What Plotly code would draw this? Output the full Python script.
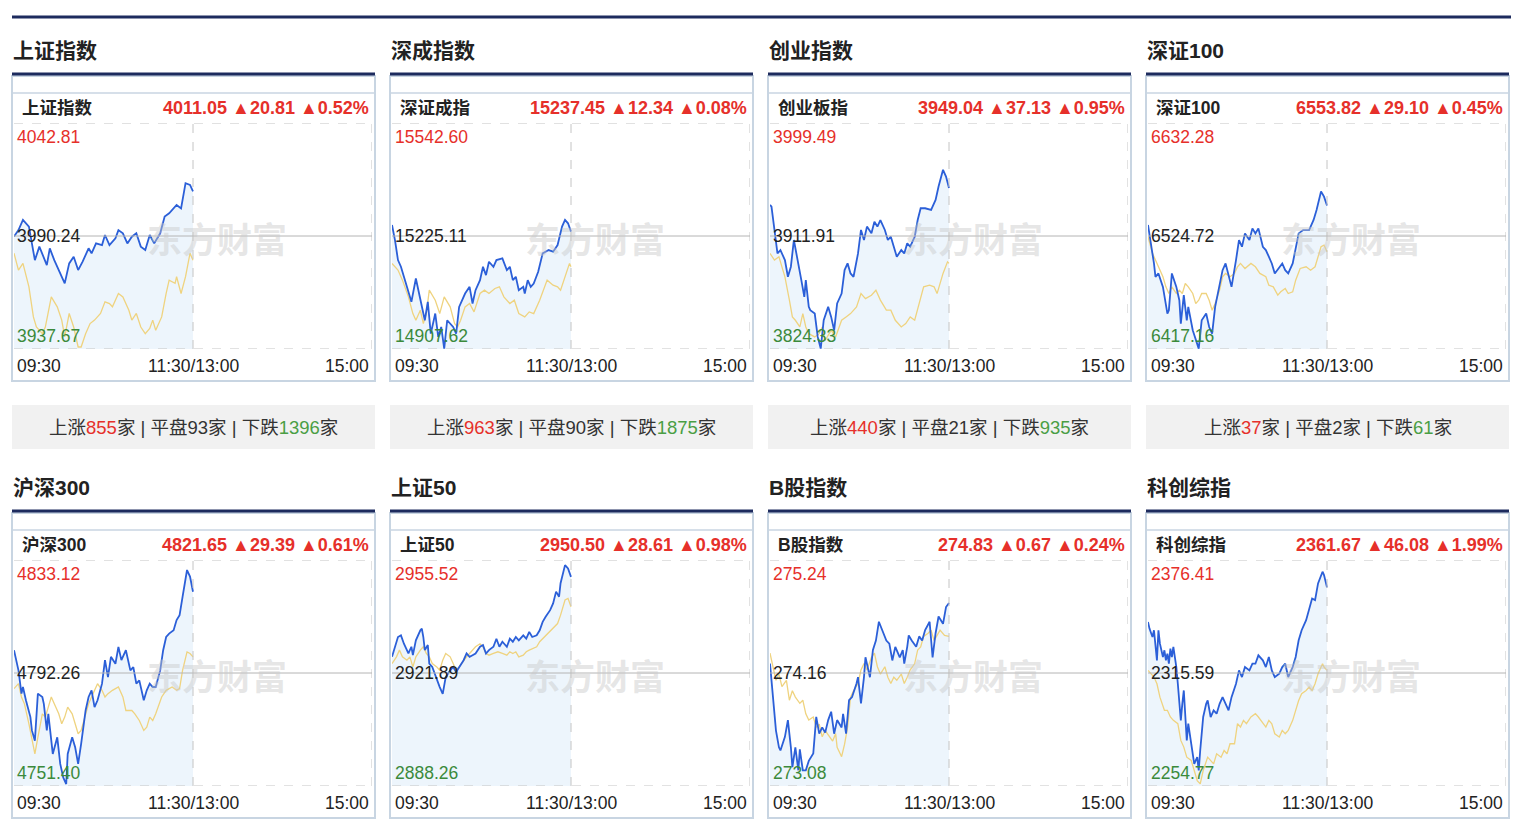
import plotly.graph_objects as go

W, H = 1524, 838

# ---------------- data ----------------
section_titles = ["上证指数", "深成指数", "创业指数", "深证100", "沪深300", "上证50", "B股指数", "科创综指"]
header_names = ["上证指数", "深证成指", "创业板指", "深证100", "沪深300", "上证50", "B股指数", "科创综指"]
last_prices = ["4011.05", "15237.45", "3949.04", "6553.82", "4821.65", "2950.50", "274.83", "2361.67"]
changes = ["20.81", "12.34", "37.13", "29.10", "29.39", "28.61", "0.67", "46.08"]
pcts = ["0.52%", "0.08%", "0.95%", "0.45%", "0.61%", "0.98%", "0.24%", "1.99%"]
axis_high = [4042.81, 15542.60, 3999.49, 6632.28, 4833.12, 2955.52, 275.24, 2376.41]
prev_close = [3990.24, 15225.11, 3911.91, 6524.72, 4792.26, 2921.89, 274.16, 2315.59]
axis_low = [3937.67, 14907.62, 3824.33, 6417.16, 4751.40, 2888.26, 273.08, 2254.77]
axis_high_lbl = ["4042.81", "15542.60", "3999.49", "6632.28", "4833.12", "2955.52", "275.24", "2376.41"]
prev_close_lbl = ["3990.24", "15225.11", "3911.91", "6524.72", "4792.26", "2921.89", "274.16", "2315.59"]
axis_low_lbl = ["3937.67", "14907.62", "3824.33", "6417.16", "4751.40", "2888.26", "273.08", "2254.77"]
time_ticks = ["09:30", "11:30/13:00", "15:00"]
up_counts = [855, 963, 440, 37]
flat_counts = [93, 90, 21, 2]
down_counts = [1396, 1875, 935, 61]

# minutes since 09:30 (morning session) and values
sh_price_t = [0,3,6,10,14,17,22,24,27,32,34,37,40,43,46,50,52,55,59,61,64,68,70,73,76,79,82,85,88,91,94,98,101,104,109,112,115,118,120]
sh_price_v = [3990.0,3993.0,3997.7,3994.6,3979.0,3985.3,3976.7,3984.5,3979.0,3971.3,3968.2,3977.5,3980.6,3974.4,3978.3,3984.5,3982.2,3986.8,3986.0,3990.7,3986.0,3989.2,3993.0,3991.5,3986.8,3989.9,3991.5,3985.3,3983.7,3990.7,3986.8,3991.5,3999.3,4000.8,4004.7,4003.1,4014.8,4014.0,4011.05]
sh_avg_t = [0,3,6,10,13,15,19,21,25,29,32,34,37,40,43,45,48,51,54,58,61,64,66,70,73,77,79,82,85,88,91,93,95,99,102,104,108,109,112,115,118,120]
sh_avg_v = [3982.2,3974.4,3977.5,3966.6,3952.6,3947.9,3944.8,3947.9,3961.9,3957.3,3951.1,3943.3,3954.2,3947.9,3938.6,3938.6,3944.8,3949.5,3951.1,3954.2,3959.6,3958.8,3957.3,3963.5,3961.9,3955.7,3951.1,3954.2,3947.9,3944.8,3947.2,3951.1,3946.4,3952.6,3963.5,3969.7,3968.2,3971.3,3963.5,3971.3,3982.2,3979.0]

sz_price_t = [0,2,4,6,8,11,13,16,22,24,26,29,31,33,35,37,41,43,45,49,52,54,56,59,61,63,65,68,70,74,77,79,81,83,85,88,89,91,93,95,98,101,105,108,111,114,116,118,120]
sz_price_v = [15256.1,15213.8,15157.5,15138.7,15110.5,15063.5,15040.1,15105.8,14988.4,15040.1,14950.8,15007.2,14941.4,14969.6,14908.6,14988.4,14969.6,14950.8,15026.0,15063.5,15082.3,15035.4,15072.9,15101.1,15138.7,15115.2,15152.8,15138.7,15157.5,15162.2,15129.3,15138.7,15101.1,15110.5,15072.9,15082.3,15063.5,15101.1,15082.3,15091.7,15124.6,15176.3,15185.6,15181.0,15199.7,15251.4,15270.2,15260.8,15237.45]
sz_avg_t = [0,4,7,11,14,16,19,21,23,25,29,32,35,39,42,44,46,49,52,55,59,62,65,69,72,75,79,82,85,89,92,95,99,102,104,108,111,113,117,119,120]
sz_avg_v = [15148.1,15129.3,15101.1,15054.1,15007.2,14988.4,15016.6,14979.0,15007.2,15072.9,15044.8,15007.2,15054.1,15026.0,14979.0,14969.6,14988.4,15026.0,15035.4,15011.9,15063.5,15072.9,15063.5,15077.6,15082.3,15054.1,15035.4,15044.8,15007.2,14997.8,15011.9,15007.2,15044.8,15082.3,15101.1,15087.0,15082.3,15072.9,15119.9,15148.1,15138.7]

cy_price_t = [0,1,3,5,7,10,12,14,16,19,21,23,24,26,27,30,32,34,36,39,41,43,45,48,50,52,54,56,59,61,63,65,68,70,72,74,77,79,81,83,85,88,90,92,94,97,99,101,104,108,111,113,116,118,120]
cy_price_v = [3936.0,3934.7,3916.6,3898.4,3901.0,3893.2,3880.3,3888.1,3908.8,3888.1,3877.7,3864.7,3877.7,3857.0,3854.4,3851.8,3833.7,3824.6,3846.6,3857.0,3849.2,3838.8,3859.6,3867.3,3885.5,3890.7,3882.9,3880.3,3898.4,3916.6,3908.8,3919.2,3914.0,3923.0,3919.2,3924.3,3916.6,3908.8,3911.4,3903.6,3895.8,3901.0,3898.4,3906.2,3903.6,3911.4,3924.3,3933.4,3933.4,3932.1,3939.9,3950.3,3963.2,3958.0,3949.04]
cy_avg_t = [0,3,6,10,13,15,17,20,22,24,26,30,33,35,37,41,44,48,51,54,58,61,64,68,71,74,78,81,84,88,91,94,97,100,103,107,110,112,116,119,120]
cy_avg_v = [3898.4,3893.2,3895.8,3880.3,3862.2,3849.2,3846.6,3841.4,3851.8,3841.4,3836.2,3833.7,3836.2,3841.4,3831.1,3838.8,3833.7,3846.6,3849.2,3851.8,3857.0,3867.3,3863.4,3866.0,3869.9,3862.2,3854.4,3854.4,3846.6,3841.4,3844.0,3849.2,3846.6,3859.6,3872.5,3873.8,3872.5,3867.3,3882.9,3891.9,3890.7]

sz100_price_t = [0,2,4,5,7,10,12,13,14,16,19,21,22,24,26,27,30,32,34,36,39,41,43,45,48,50,52,54,56,59,61,63,65,68,70,72,74,77,79,81,83,85,88,90,92,94,97,99,101,104,108,111,113,116,118,120]
sz100_price_v = [6535.2,6517.7,6498.6,6485.9,6489.1,6476.3,6457.2,6450.9,6454.1,6489.1,6476.3,6463.6,6441.3,6468.4,6444.5,6457.2,6435.0,6427.0,6417.5,6444.5,6450.9,6438.1,6431.8,6457.2,6476.3,6492.2,6498.6,6485.9,6476.3,6501.8,6520.9,6514.5,6527.2,6520.9,6532.0,6527.2,6532.0,6514.5,6511.3,6505.0,6498.6,6489.1,6495.4,6498.6,6492.2,6489.1,6498.6,6514.5,6527.2,6530.4,6530.4,6540.0,6549.5,6567.0,6562.2,6553.82]
sz100_avg_t = [0,3,5,7,10,12,14,16,19,21,23,25,27,30,32,34,36,39,41,43,45,48,50,52,55,58,60,62,65,69,72,75,79,81,84,87,89,92,94,97,99,102,106,109,112,116,118,120]
sz100_avg_v = [6524.1,6508.2,6501.8,6495.4,6485.9,6476.3,6470.0,6476.3,6470.0,6473.2,6470.0,6479.5,6476.3,6470.0,6460.4,6463.6,6470.0,6470.0,6463.6,6454.1,6460.4,6473.2,6485.9,6489.1,6485.9,6489.1,6495.4,6498.6,6493.8,6498.6,6495.4,6489.1,6485.9,6477.9,6476.3,6468.4,6471.6,6474.7,6470.0,6471.6,6482.7,6493.8,6495.4,6492.2,6495.4,6514.5,6516.1,6509.7]

hs300_price_t = [0,1,3,5,6,8,11,12,14,16,19,20,22,23,25,26,29,31,33,35,36,39,41,43,45,48,50,52,54,56,59,61,63,65,68,70,72,75,78,80,82,84,87,89,91,93,95,98,100,102,104,107,109,111,113,116,118,120]
hs300_price_v = [4800.5,4798.1,4793.2,4784.8,4787.2,4782.4,4776.3,4771.5,4767.8,4784.8,4783.6,4781.1,4771.5,4777.5,4769.0,4763.0,4769.0,4759.4,4754.5,4752.1,4763.0,4769.0,4765.4,4759.4,4766.6,4778.7,4783.6,4786.0,4779.9,4782.4,4788.4,4796.9,4790.8,4798.1,4795.6,4801.7,4796.9,4800.5,4793.2,4794.4,4788.4,4789.6,4782.4,4786.0,4788.4,4787.2,4787.2,4793.2,4800.5,4805.3,4806.5,4807.7,4811.4,4813.2,4819.8,4829.5,4827.1,4821.65]
hs300_avg_t = [0,3,5,7,10,12,14,16,19,21,23,25,27,30,32,34,36,39,41,43,45,48,50,52,54,56,59,61,63,66,70,73,75,79,81,84,87,89,91,93,95,99,102,106,109,111,113,116,118,120]
hs300_avg_v = [4786.6,4788.4,4783.6,4781.1,4773.9,4769.0,4763.0,4769.0,4777.5,4776.3,4779.9,4783.6,4781.1,4777.5,4773.9,4776.3,4779.9,4777.5,4773.9,4770.3,4771.5,4777.5,4781.1,4783.6,4786.0,4788.4,4786.0,4783.6,4784.8,4786.0,4787.2,4783.6,4778.7,4778.7,4777.5,4775.1,4771.5,4772.7,4776.3,4775.1,4777.5,4783.6,4786.0,4787.2,4786.0,4786.6,4793.2,4799.9,4799.3,4798.1]

sz50_price_t = [0,2,4,6,8,11,13,14,16,19,20,21,22,24,25,27,30,32,34,36,39,41,43,45,48,50,52,54,56,59,61,63,65,68,70,72,74,77,79,81,83,85,88,90,92,94,97,99,101,103,106,108,110,112,113,116,118,120]
sz50_price_v = [2926.7,2929.7,2932.6,2933.1,2930.6,2927.7,2929.7,2927.2,2931.6,2934.6,2935.1,2932.6,2928.7,2930.2,2924.7,2923.7,2919.7,2917.7,2915.7,2920.7,2922.7,2923.7,2922.2,2923.7,2925.7,2927.7,2926.7,2927.2,2927.7,2929.7,2930.2,2927.7,2928.7,2929.7,2932.1,2929.7,2931.2,2929.7,2932.1,2931.2,2932.6,2931.6,2933.1,2932.1,2934.1,2932.6,2933.1,2934.6,2937.1,2938.6,2940.6,2942.6,2946.1,2944.6,2948.6,2954.0,2953.0,2950.50]
sz50_avg_t = [0,3,5,7,10,12,14,16,19,21,23,25,27,30,32,34,36,39,41,43,45,48,50,52,54,56,59,61,63,65,68,71,74,77,79,81,83,85,88,90,92,94,97,99,101,103,107,109,111,113,116,118,120]
sz50_avg_v = [2924.7,2926.7,2928.7,2926.7,2925.7,2926.7,2923.7,2926.7,2928.7,2929.7,2927.7,2926.7,2924.7,2923.7,2922.7,2925.7,2927.7,2926.7,2924.7,2922.7,2923.7,2925.7,2926.7,2927.7,2928.7,2929.7,2930.6,2929.7,2927.7,2927.2,2927.7,2928.2,2927.7,2927.2,2928.2,2927.7,2928.2,2926.7,2927.2,2928.2,2928.7,2929.2,2929.7,2931.2,2932.1,2933.1,2934.6,2935.6,2936.6,2939.1,2943.6,2944.1,2941.6]

bg_price_t = [0,2,4,6,7,10,12,14,15,17,19,20,22,24,26,29,31,33,35,37,39,41,43,45,48,49,51,53,55,58,59,61,63,64,67,69,71,73,75,78,80,82,84,87,89,90,92,93,95,98,100,102,104,107,109,111,113,116,118,120]
bg_price_v = [274.25,273.93,273.61,273.45,273.42,273.55,273.71,273.45,273.26,273.45,273.23,273.43,273.23,273.23,273.32,273.39,273.74,273.58,273.64,273.59,273.71,273.79,273.58,273.71,273.64,273.77,273.58,273.90,273.93,274.06,274.12,273.87,274.12,274.31,274.12,274.38,274.47,274.65,274.57,274.47,274.44,274.28,274.41,274.31,274.38,274.25,274.41,274.52,274.47,274.41,274.51,274.47,274.57,274.65,274.31,274.54,274.70,274.63,274.79,274.83]
bg_avg_t = [0,2,4,6,8,11,13,15,17,20,22,24,26,29,31,33,35,37,40,42,44,45,48,50,52,54,56,59,61,63,65,68,70,72,74,77,79,81,83,85,88,90,92,94,97,99,101,103,106,108,110,112,114,117,120]
bg_avg_v = [274.35,274.22,274.09,274.15,274.03,274.09,273.90,273.99,273.93,273.87,273.90,273.77,273.71,273.74,273.64,273.67,273.55,273.61,273.55,273.51,273.58,273.45,273.36,273.48,273.64,273.93,273.99,274.06,274.19,274.25,274.19,274.31,274.35,274.22,274.15,274.22,274.12,274.06,274.12,274.09,274.15,274.06,274.12,274.19,274.25,274.38,274.41,274.51,274.54,274.57,274.47,274.52,274.57,274.52,274.51]

kc_price_t = [0,1,3,4,6,7,8,10,11,12,13,14,15,16,17,19,20,22,23,24,26,27,29,31,33,34,35,37,39,40,42,44,46,48,50,52,54,56,59,61,63,65,68,70,72,74,77,79,81,83,85,88,90,92,94,97,99,101,103,106,108,110,112,114,117,118,120]
kc_price_v = [2343.1,2339.5,2335.0,2338.6,2322.4,2338.6,2331.4,2324.2,2327.8,2322.4,2326.0,2320.6,2328.7,2324.2,2329.6,2318.8,2309.8,2290.1,2299.0,2306.2,2279.3,2288.3,2277.5,2266.7,2270.3,2263.1,2273.9,2291.9,2299.0,2300.8,2291.9,2295.5,2293.7,2299.0,2302.6,2299.0,2295.5,2302.6,2309.8,2317.0,2313.4,2318.8,2317.0,2320.6,2320.6,2325.1,2322.4,2318.8,2324.2,2317.0,2313.4,2315.2,2318.8,2320.6,2313.4,2318.8,2324.2,2333.2,2338.6,2344.0,2349.4,2355.7,2354.8,2363.8,2370.1,2368.3,2361.67]
kc_avg_t = [0,2,4,6,8,11,13,15,17,20,22,24,26,29,31,33,35,37,40,42,44,46,49,51,53,55,58,60,62,64,66,69,72,74,77,79,81,83,85,88,90,92,94,97,99,101,103,106,108,110,112,114,117,118,120]
kc_avg_v = [2317.0,2315.2,2313.4,2309.8,2302.6,2295.5,2295.5,2291.9,2290.1,2288.3,2279.3,2275.7,2270.3,2268.5,2263.1,2257.7,2255.9,2263.1,2270.3,2268.5,2266.7,2272.1,2270.3,2273.9,2272.1,2277.5,2277.5,2288.3,2286.5,2290.1,2288.3,2291.9,2293.7,2291.9,2288.3,2286.5,2290.1,2288.3,2282.9,2281.1,2284.7,2282.9,2284.7,2290.1,2295.5,2300.8,2304.4,2306.2,2308.0,2306.2,2309.8,2315.2,2320.6,2318.8,2317.0]

price_series = [(sh_price_t, sh_price_v), (sz_price_t, sz_price_v), (cy_price_t, cy_price_v), (sz100_price_t, sz100_price_v),
                (hs300_price_t, hs300_price_v), (sz50_price_t, sz50_price_v), (bg_price_t, bg_price_v), (kc_price_t, kc_price_v)]
avg_series = [(sh_avg_t, sh_avg_v), (sz_avg_t, sz_avg_v), (cy_avg_t, cy_avg_v), (sz100_avg_t, sz100_avg_v),
              (hs300_avg_t, hs300_avg_v), (sz50_avg_t, sz50_avg_v), (bg_avg_t, bg_avg_v), (kc_avg_t, kc_avg_v)]

# ---------------- style ----------------
FONT = "Liberation Sans, Arial, Noto Sans CJK SC, sans-serif"
RED = "#e6302a"
GREEN = "#3b8a3b"
GREEN2 = "#4a9e44"
DARK = "#222222"
NAVY = "#1d2b5e"
BLUE = "#2b5fd8"
GOLD = "#efd37f"
FILL = "#edf5fc"
BORDER = "#c8d5e2"
GRID = "#c4c4c4"

COL_DX, ROW_DY = 378, 437


def px(x):
    return x / W


def py(y):
    return 1 - y / H


fig = go.Figure()
shapes = []
anns = []
axes = {}

shapes.append(dict(type="line", xref="paper", yref="paper", x0=px(12), x1=px(1511), y0=py(17), y1=py(17),
                   line=dict(color=NAVY, width=3)))

for i in range(8):
    c, r = i % 4, i // 4
    ox, oy = c * COL_DX, r * ROW_DY
    n = "" if i == 0 else str(i + 1)
    xa, ya = "x" + n, "y" + n
    axes["xaxis" + n] = dict(domain=[px(14 + ox), px(372 + ox)], range=[0, 240], visible=False,
                             fixedrange=True, anchor=ya)
    axes["yaxis" + n] = dict(domain=[py(349 + oy), py(123 + oy)], range=[axis_low[i], axis_high[i]],
                             visible=False, fixedrange=True, anchor=xa)

    # outer frame + header
    shapes.append(dict(type="rect", xref="paper", yref="paper", x0=px(12 + ox), x1=px(375 + ox),
                       y0=py(381 + oy), y1=py(76 + oy), line=dict(color=BORDER, width=2), layer="below"))
    shapes.append(dict(type="line", xref="paper", yref="paper", x0=px(13 + ox), x1=px(374 + ox),
                       y0=py(93 + oy), y1=py(93 + oy), line=dict(color=BORDER, width=1.5)))
    shapes.append(dict(type="line", xref="paper", yref="paper", x0=px(12 + ox), x1=px(375 + ox),
                       y0=py(74 + oy), y1=py(74 + oy), line=dict(color=NAVY, width=3)))

    # grid lines in data space
    shapes.append(dict(type="line", xref=xa + " domain", yref=ya, x0=0, x1=1, y0=axis_high[i], y1=axis_high[i],
                       line=dict(color=GRID, width=1, dash="dash")))
    shapes.append(dict(type="line", xref=xa + " domain", yref=ya, x0=0, x1=1, y0=axis_low[i], y1=axis_low[i],
                       line=dict(color=GRID, width=1, dash="dash")))
    shapes.append(dict(type="line", xref=xa, yref=ya + " domain", x0=120, x1=120, y0=0, y1=1,
                       line=dict(color=GRID, width=1, dash="dash")))
    shapes.append(dict(type="line", xref=xa, yref=ya + " domain", x0=240, x1=240, y0=0, y1=1,
                       line=dict(color=GRID, width=1, dash="dash")))

    # watermark
    anns.append(dict(xref="paper", yref="paper", x=px(217 + ox), y=py(237 + oy), text="<b>东方财富</b>",
                     showarrow=False, font=dict(family="Noto Sans CJK SC", size=35, color="rgba(200,200,200,0.45)"),
                     xanchor="center", yanchor="middle"))

    pt, pv = price_series[i]
    at, av = avg_series[i]
    fig.add_trace(go.Scatter(x=pt, y=pv, xaxis=xa, yaxis=ya, mode="lines", fill="tozeroy", fillcolor=FILL,
                             line=dict(width=0, color=FILL), hoverinfo="skip", showlegend=False))
    fig.add_trace(go.Scatter(x=at, y=av, xaxis=xa, yaxis=ya, mode="lines", line=dict(color=GOLD, width=1.3),
                             hoverinfo="skip", showlegend=False))
    fig.add_trace(go.Scatter(x=pt, y=pv, xaxis=xa, yaxis=ya, mode="lines", line=dict(color=BLUE, width=1.8),
                             hoverinfo="skip", showlegend=False))

    # mid (previous close) line drawn above fill
    shapes.append(dict(type="line", xref=xa + " domain", yref=ya, x0=0, x1=1, y0=prev_close[i], y1=prev_close[i],
                       line=dict(color="#b4b4b4", width=1), layer="above"))

    # titles & header
    anns.append(dict(xref="paper", yref="paper", x=px(11 + ox), y=py(50 + oy), text="<b>%s</b>" % section_titles[i],
                     showarrow=False, xanchor="left", yanchor="middle", font=dict(family=FONT, size=21, color=DARK)))
    anns.append(dict(xref="paper", yref="paper", x=px(20 + ox), y=py(108 + oy), text="<b>%s</b>" % header_names[i],
                     showarrow=False, xanchor="left", yanchor="middle", font=dict(family=FONT, size=17.5, color=DARK)))
    anns.append(dict(xref="paper", yref="paper", x=px(371 + ox), y=py(108 + oy),
                     text="<b>%s ▲%s ▲%s</b>" % (last_prices[i], changes[i], pcts[i]),
                     showarrow=False, xanchor="right", yanchor="middle", font=dict(family=FONT, size=18, color=RED)))

    # y value labels
    anns.append(dict(xref=xa + " domain", yref=ya, x=0.003, y=axis_high[i], yshift=-2, text=axis_high_lbl[i],
                     showarrow=False, xanchor="left", yanchor="top", font=dict(family=FONT, size=17.5, color=RED)))
    anns.append(dict(xref=xa + " domain", yref=ya, x=0.003, y=prev_close[i], text=prev_close_lbl[i],
                     showarrow=False, xanchor="left", yanchor="middle", font=dict(family=FONT, size=17.5, color=DARK)))
    anns.append(dict(xref=xa + " domain", yref=ya, x=0.003, y=axis_low[i], yshift=1, text=axis_low_lbl[i],
                     showarrow=False, xanchor="left", yanchor="bottom", font=dict(family=FONT, size=17.5, color=GREEN)))

    # time labels
    for xv, anchor, txt in zip([0, 120, 240], ["left", "center", "right"], time_ticks):
        anns.append(dict(xref=xa, yref="paper", x=xv, y=py(366 + oy), text=txt, showarrow=False,
                         xanchor=anchor, yanchor="middle", xshift=(1 if anchor == "left" else (-1 if anchor == "right" else 0)),
                         font=dict(family=FONT, size=17.5, color=DARK)))

# breadth boxes (top row only)
for c in range(4):
    ox = c * COL_DX
    shapes.append(dict(type="rect", xref="paper", yref="paper", x0=px(12 + ox), x1=px(375 + ox),
                       y0=py(449), y1=py(405), line=dict(width=0), fillcolor="#f1f1f1", layer="below"))
    txt = ("上涨<span style='color:%s'>%d</span>家 | 平盘%d家 | 下跌<span style='color:%s'>%d</span>家"
           % (RED, up_counts[c], flat_counts[c], GREEN2, down_counts[c]))
    anns.append(dict(xref="paper", yref="paper", x=px(193.5 + ox), y=py(427), text=txt, showarrow=False,
                     xanchor="center", yanchor="middle", font=dict(family=FONT, size=18.5, color="#333333")))

fig.update_layout(width=W, height=H, margin=dict(l=0, r=0, t=0, b=0), paper_bgcolor="white",
                  plot_bgcolor="rgba(0,0,0,0)", showlegend=False, hovermode=False,
                  shapes=shapes, annotations=anns, **axes)

fig.write_html("out.html", config={"displayModeBar": False})
